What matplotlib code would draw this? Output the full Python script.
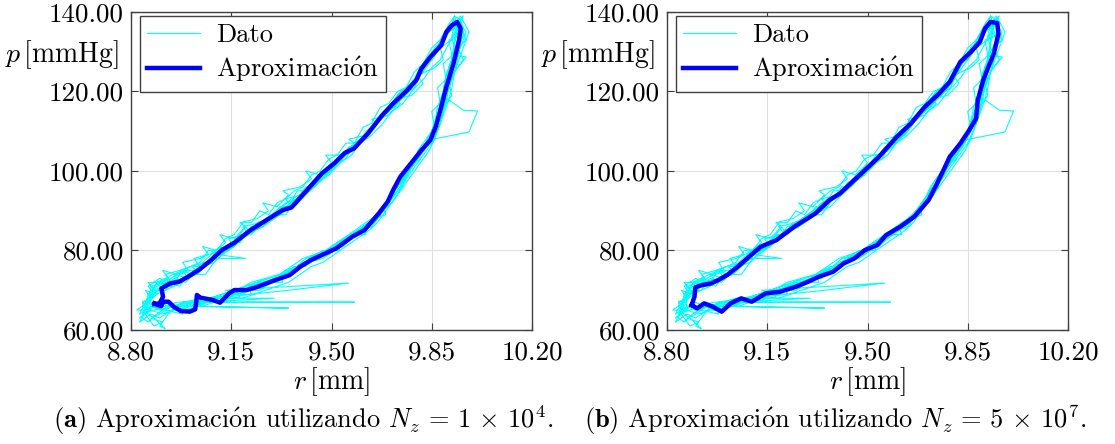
import matplotlib
matplotlib.use("Agg")
import matplotlib.pyplot as plt

plt.rcParams["font.family"] = ["cmr10", "DejaVu Serif"]
plt.rcParams["mathtext.fontset"] = "cm"
plt.rcParams["axes.unicode_minus"] = False

# Measured pressure-radius cycles (same data in both panels)
r_ciclo1 = [8.85, 8.87, 8.87, 8.90, 8.92, 8.95, 8.98, 9.00, 9.02, 9.06, 9.08, 9.12, 9.15, 9.18,
            9.21, 9.25, 9.29, 9.33, 9.36, 9.40, 9.43, 9.47, 9.50, 9.53, 9.57, 9.60, 9.64, 9.67,
            9.70, 9.73, 9.77, 9.80, 9.82, 9.85, 9.88, 9.90, 9.92, 9.93, 9.94, 9.93, 9.92, 9.90,
            9.89, 9.87, 9.86, 9.84, 9.81, 9.78, 9.75, 9.72, 9.70, 9.67, 9.64, 9.60, 9.56, 9.52,
            9.48, 9.44, 9.40, 9.36, 9.32, 9.28, 9.24, 9.20, 9.16, 9.12, 9.08, 9.04, 9.00, 8.96,
            8.92, 8.88]
p_ciclo1 = [66, 68, 70, 70, 72, 72, 73, 73, 75, 76, 78, 80, 82, 82,
            85, 86, 89, 90, 92, 94, 97, 99, 101, 104, 105, 108, 111, 113,
            116, 118, 121, 124, 127, 129, 132, 135, 137, 139, 136, 132, 128, 124,
            120, 116, 112, 108, 105, 102, 99, 96, 93, 90, 88, 86, 84, 82,
            80, 78, 77, 75, 74, 73, 72, 71, 70, 69, 68, 68, 67, 67,
            66, 65]

r_ciclo2 = [8.84, 8.86, 8.88, 8.91, 8.94, 8.97, 9.01, 9.04, 9.07, 9.10, 9.14, 9.17, 9.21, 9.24,
            9.28, 9.32, 9.35, 9.38, 9.42, 9.45, 9.49, 9.52, 9.55, 9.59, 9.62, 9.66, 9.69, 9.72,
            9.75, 9.78, 9.81, 9.84, 9.86, 9.89, 9.91, 9.93, 9.95, 9.96, 9.94, 9.92, 9.91, 9.89,
            9.88, 9.86, 9.84, 9.98, 10.01, 9.96, 9.90, 9.88, 9.85, 9.82, 9.79, 9.76, 9.73, 9.71,
            9.68, 9.65, 9.62, 9.58, 9.54, 9.50, 9.46, 9.42, 9.38, 9.34, 9.30, 9.26, 9.22, 9.18,
            9.14, 9.10, 9.06, 9.02, 8.98, 8.94, 8.90, 8.87]
p_ciclo2 = [64, 66, 69, 71, 71, 74, 75, 75, 77, 80, 80, 83, 84, 87,
            88, 91, 91, 95, 95, 98, 100, 102, 105, 106, 110, 112, 115, 117,
            119, 122, 125, 128, 131, 133, 136, 138, 137, 134, 131, 126, 122, 118,
            114, 110, 107.8, 109.8, 115.1, 115.3, 118.4, 112, 107, 104, 101, 98, 94, 92,
            90, 87, 86, 84, 81, 80, 79, 77, 76, 73, 73, 71, 71, 70,
            68, 68, 67, 66, 67, 65, 63, 64]

r_ciclo3 = [8.83, 8.85, 8.86, 8.89, 8.92, 8.95, 8.99, 9.02, 9.05, 9.09, 9.12, 9.16, 9.19, 9.23,
            9.26, 9.30, 9.34, 9.37, 9.41, 9.44, 9.48, 9.51, 9.55, 9.58, 9.62, 9.65, 9.68, 9.71,
            9.74, 9.78, 9.81, 9.84, 9.87, 9.89, 9.92, 9.94, 9.97, 9.95, 9.93, 9.97, 9.93, 9.91,
            9.90, 9.88, 9.85, 9.83, 9.80, 9.77, 9.74, 9.72, 9.69, 9.66, 9.63, 9.59, 9.55, 9.51,
            9.47, 9.43, 9.39, 9.35, 9.31, 9.27, 9.23, 9.19, 9.15, 9.11, 9.07, 9.03, 9.58, 9.30,
            9.00, 8.96, 8.93, 8.90, 8.92, 8.88, 8.84]
p_ciclo3 = [62, 65, 67, 69, 70, 73, 72, 74, 76, 77, 79, 81, 84, 85,
            86, 89, 89, 92, 96, 96, 99, 102, 103, 107, 109, 112, 114, 117,
            120, 122, 126, 128, 130, 134, 136, 138, 135, 131, 129, 128.7, 125, 121,
            117, 113, 109, 106, 103, 100, 97, 95, 91, 89, 87, 85, 83, 81,
            79, 78, 76, 75, 73, 72, 71, 70, 69, 67, 67, 67, 67, 67,
            67, 66, 64, 61, 60.3, 63, 65]

r_ciclo4 = [8.82, 8.86, 8.87, 8.91, 8.94, 8.98, 9.01, 9.05, 9.08, 9.11, 9.13, 9.17, 9.20, 9.22,
            9.27, 9.31, 9.34, 9.38, 9.41, 9.46, 9.49, 9.53, 9.56, 9.60, 9.63, 9.66, 9.70, 9.73,
            9.76, 9.79, 9.82, 9.85, 9.88, 9.90, 9.93, 9.95, 9.98, 9.96, 9.94, 9.92, 9.90, 9.88,
            9.86, 9.83, 9.80, 9.78, 9.75, 9.72, 9.70, 9.67, 9.64, 9.60, 9.57, 9.53, 9.49, 9.45,
            9.41, 9.37, 9.33, 9.29, 9.25, 9.21, 9.17, 9.13, 9.56, 9.35, 9.09, 9.05, 9.01, 9.35,
            8.97, 8.93, 8.89, 8.86]
p_ciclo4 = [65, 67, 71, 72, 73, 75, 74, 77, 79, 81, 80, 83, 86, 84,
            88, 90, 92, 93, 95, 98, 101, 103, 106, 107, 110, 113, 115, 119,
            121, 123, 126, 130, 131, 134, 137, 139, 135, 131, 127, 123, 119, 115,
            111, 107, 104, 101, 97, 94, 92, 89, 86, 85, 83, 82, 80, 78,
            77, 75, 74, 72, 72, 70, 69, 70, 71.8, 70, 68, 68, 66, 65.5,
            66, 66, 64, 62]

r_ciclo5 = [8.84, 8.85, 8.86, 8.89, 8.93, 8.97, 9.00, 9.03, 9.06, 9.09, 9.20, 9.10, 9.13, 9.16,
            9.19, 9.22, 9.26, 9.29, 9.33, 9.36, 9.39, 9.43, 9.47, 9.50, 9.54, 9.57, 9.61, 9.64,
            9.67, 9.71, 9.74, 9.77, 9.80, 9.83, 9.86, 9.88, 9.91, 9.93, 9.95, 9.93, 9.91, 9.90,
            9.88, 9.87, 9.85, 9.82, 9.79, 9.76, 9.74, 9.71, 9.68, 9.65, 9.61, 9.57, 9.53, 9.49,
            9.45, 9.41, 9.37, 9.33, 9.29, 9.25, 9.21, 9.17, 9.13, 9.09, 9.05, 9.01, 8.97, 8.94,
            8.90, 8.87]
p_ciclo5 = [63, 66, 69, 71, 72, 71, 74, 74, 76, 78, 78, 79, 80, 82,
            83, 86, 87, 88, 91, 93, 94, 96, 100, 100, 104, 106, 108, 110,
            114, 116, 118, 120, 123, 127, 129, 133, 135, 136, 133, 130, 126, 121,
            117, 113, 110, 106, 102, 99, 96, 93, 91, 88, 86, 84, 82, 79,
            79, 76, 76, 74, 72, 70, 70, 68, 68, 67, 66, 67, 65, 66,
            65, 66]

r_ciclo6 = [8.86, 8.88, 8.86, 8.90, 8.93, 8.91, 8.96, 9.00, 8.98, 9.04,
            9.07, 9.05, 9.10, 9.13, 9.11, 9.16, 9.20, 9.18, 9.24, 9.28,
            9.26, 9.31, 9.35, 9.33, 9.39, 9.43, 9.41, 9.46, 9.50, 9.48,
            9.54, 9.58, 9.56, 9.62, 9.66, 9.64, 9.70, 9.74, 9.72, 9.78,
            9.82, 9.80, 9.86, 9.89, 9.88, 9.92, 9.94, 9.96, 9.93, 9.95,
            9.91, 9.92, 9.89, 9.90, 9.87, 9.88, 9.85, 9.86, 9.83, 9.80,
            9.81, 9.77, 9.74, 9.75, 9.71, 9.68, 9.69, 9.65, 9.61, 9.62,
            9.57, 9.52, 9.53, 9.47, 9.42, 9.43, 9.37, 9.32, 9.33, 9.27,
            9.21, 9.22, 9.15, 9.09, 9.10, 9.03, 8.97, 8.98, 8.92, 8.88]
p_ciclo6 = [68, 70, 72, 72, 73, 75, 74, 75, 77, 78,
            79, 81, 80, 82, 84, 83, 86, 87, 88, 90,
            92, 91, 94, 95, 96, 98, 100, 99, 102, 104,
            104, 107, 108, 109, 112, 113, 114, 117, 118, 119,
            122, 124, 126, 128, 131, 133, 136, 139, 137, 134,
            133, 129, 127, 123, 121, 117, 115, 111, 108, 105,
            103, 101, 97, 96, 94, 91, 89, 88, 86, 84,
            84, 82, 80, 80, 78, 77, 75, 74, 72, 72,
            71, 69, 69, 68, 67, 67, 66, 64, 65, 66]

r_ciclo7 = [8.85, 8.84, 8.87, 8.89, 8.92, 8.95, 8.99, 9.03, 9.06, 9.09,
            9.13, 9.16, 9.19, 9.23, 9.26, 9.30, 9.34, 9.37, 9.41, 9.44,
            9.48, 9.52, 9.55, 9.59, 9.63, 9.66, 9.70, 9.73, 9.77, 9.80,
            9.84, 9.87, 9.90, 9.92, 9.91, 9.93, 9.92, 9.93, 9.91, 9.90,
            9.89, 9.87, 9.85, 9.83, 9.80, 9.77, 9.74, 9.71, 9.67, 9.62,
            9.57, 9.52, 9.48, 9.44, 9.40, 9.36, 9.32, 9.28, 9.24, 9.20,
            9.16, 9.12, 9.08, 9.30, 9.05, 9.01, 8.97, 8.93, 8.90, 8.86]
p_ciclo7 = [64, 67, 68, 70, 70, 71, 73, 74, 74, 77,
            80, 81, 83, 85, 86, 88, 90, 91, 94, 96,
            99, 102, 104, 107, 109, 112, 115, 117, 120, 123,
            127, 130, 134, 136, 135, 137, 134, 130, 126, 123,
            119, 114, 110, 106, 103, 100, 96, 93, 89, 86,
            84, 82, 80, 79, 78, 76, 74, 73, 72, 71,
            70, 69, 68, 68, 67, 66, 65, 66, 67, 65]

r_ciclo8 = [8.87, 8.83, 8.85, 8.88, 8.86, 8.90, 8.94, 8.92, 8.97, 9.01,
            9.04, 9.02, 9.07, 9.11, 9.14, 9.18, 9.21, 9.19, 9.25, 9.29,
            9.32, 9.36, 9.34, 9.40, 9.44, 9.47, 9.51, 9.55, 9.58, 9.61,
            9.65, 9.69, 9.72, 9.75, 9.79, 9.82, 9.85, 9.87, 9.90, 9.92,
            9.95, 9.97, 9.94, 9.96, 9.93, 9.91, 9.92, 9.89, 9.87, 9.86,
            9.84, 9.81, 9.79, 9.76, 9.73, 9.71, 9.68, 9.65, 9.62, 9.59,
            9.55, 9.51, 9.47, 9.41, 9.38, 9.34, 9.30, 9.26, 9.22, 9.18,
            9.14, 9.10, 9.06, 9.02, 8.99, 8.95, 8.91, 8.88, 8.85, 8.83]
p_ciclo8 = [66, 64, 67, 69, 71, 73, 72, 74, 75, 76,
            76, 78, 79, 80, 81, 84, 84, 86, 87, 88,
            90, 91, 93, 94, 97, 98, 101, 104, 106, 108,
            111, 115, 116, 119, 121, 126, 129, 131, 134, 136,
            137, 133, 131, 128, 125, 122, 119, 116, 113, 110,
            107, 104, 102, 100, 97, 94, 91, 88, 86, 85,
            83, 81, 79, 78, 76, 75, 73, 72, 71, 69,
            69, 68, 67, 67, 66, 66, 65, 66, 64, 63]

r_ciclo9 = [8.86, 8.84, 8.87, 8.85, 8.89, 8.87, 8.91, 8.89, 8.94, 8.92,
            8.97, 8.95, 9.00, 8.98, 9.03, 9.01, 9.06, 9.10, 9.08, 9.12,
            9.16, 9.14, 9.20, 9.23, 9.27, 9.30, 9.34, 9.38, 9.42, 9.45,
            9.49, 9.53, 9.57, 9.60, 9.64, 9.68, 9.71, 9.75, 9.78, 9.82,
            9.85, 9.88, 9.91, 9.93, 9.94, 9.93, 9.92, 9.90, 9.89, 9.88,
            9.86, 9.84, 9.81, 9.78, 9.75, 9.72, 9.69, 9.66, 9.63, 9.59,
            9.55, 9.51, 9.47, 9.42, 9.37, 9.32, 9.27, 9.22, 9.17, 9.12,
            9.07, 9.02, 8.98, 9.06, 8.94, 8.90, 8.87, 8.91, 8.88, 8.85]
p_ciclo9 = [65, 67, 68, 70, 69, 71, 70, 72, 71, 73,
            72, 74, 73, 75, 75, 76, 77, 78, 80, 80,
            81, 83, 84, 86, 88, 89, 91, 93, 95, 97,
            99, 102, 104, 107, 109, 112, 115, 117, 120, 123,
            126, 128, 132, 135, 137, 133, 128, 124, 120, 116,
            112, 108, 104, 101, 98, 95, 91, 88, 86, 84,
            82, 80, 78, 77, 75, 74, 73, 72, 70, 69,
            68, 67, 67, 68, 66, 64, 63, 62, 61, 64]

r_ciclo10 = [8.85, 8.87, 8.89, 8.92, 8.95, 8.98, 9.01, 9.04, 9.07, 9.10,
             9.13, 9.16, 9.19, 9.22, 9.25, 9.28, 9.31, 9.34, 9.37, 9.40,
             9.43, 9.46, 9.49, 9.52, 9.55, 9.58, 9.61, 9.64, 9.67, 9.70,
             9.73, 9.76, 9.79, 9.82, 9.85, 9.88, 9.91, 9.93, 9.95, 9.96,
             9.95, 9.94, 9.93, 9.92, 9.91, 9.90, 9.88, 9.86, 9.84, 9.81,
             9.78, 9.75, 9.72, 9.69, 9.66, 9.63, 9.59, 9.55, 9.51, 9.47,
             9.43, 9.39, 9.35, 9.31, 9.27, 9.23, 9.19, 9.15, 9.11, 9.07,
             9.03, 8.99, 8.95, 8.91, 8.87, 8.84]
p_ciclo10 = [66, 69, 72, 73, 74, 75, 76, 77, 80, 80,
             83, 84, 87, 87, 90, 89, 92, 93, 95, 96,
             99, 100, 103, 104, 107, 107, 111, 112, 116, 117,
             120, 121, 125, 127, 131, 133, 137, 139, 138, 136,
             132, 128, 125, 121, 118, 116, 112, 108, 105, 102,
             99, 96, 93, 90, 87, 85, 83, 81, 79, 77,
             76, 74, 72, 71, 70, 69, 68, 68, 67, 67,
             66, 65, 65, 64, 65, 66]

r_dato = (r_ciclo1 + r_ciclo2 + r_ciclo3 + r_ciclo4 + r_ciclo5
          + r_ciclo6 + r_ciclo7 + r_ciclo8 + r_ciclo9 + r_ciclo10)
p_dato = (p_ciclo1 + p_ciclo2 + p_ciclo3 + p_ciclo4 + p_ciclo5
          + p_ciclo6 + p_ciclo7 + p_ciclo8 + p_ciclo9 + p_ciclo10)

# Fitted loop, N_z = 1e4
r_aprox_a = [8.881, 8.900, 8.912, 8.906, 8.937, 8.968, 8.999, 9.036, 9.080, 9.117, 9.161, 9.217,
             9.292, 9.329, 9.360, 9.404, 9.466, 9.509, 9.547, 9.578, 9.627, 9.677, 9.715, 9.764,
             9.796, 9.814, 9.845, 9.883, 9.901, 9.920, 9.939, 9.951, 9.945, 9.926, 9.901, 9.883,
             9.864, 9.845, 9.814, 9.777, 9.740, 9.715, 9.696, 9.665, 9.615, 9.572, 9.516, 9.466,
             9.428, 9.391, 9.354, 9.304, 9.273, 9.236, 9.204, 9.161, 9.142, 9.111, 9.086, 9.043,
             9.030, 9.028, 9.024, 9.005, 8.974, 8.949, 8.931, 8.912, 8.906, 8.893, 8.881]
p_aprox_a = [66.53, 66.70, 68.38, 70.47, 71.73, 72.15, 73.40, 75.08, 77.59, 80.10, 81.95, 85.13,
             88.48, 90.16, 90.83, 94.35, 99.37, 101.88, 104.57, 105.65, 109.42, 114.03, 116.96, 120.31,
             122.83, 125.76, 128.69, 131.62, 134.97, 136.65, 137.49, 135.81, 132.88, 127.02, 121.15, 116.13,
             111.10, 107.75, 105.24, 101.88, 98.53, 95.18, 92.25, 89.32, 85.13, 83.45, 80.52, 78.85,
             77.59, 75.92, 73.82, 72.56, 71.73, 70.72, 70.05, 70.05, 69.21, 66.87, 67.54, 68.13,
             68.80, 67.12, 65.19, 64.61, 64.78, 65.86, 67.12, 67.12, 66.03, 66.28, 66.70]

# Fitted loop, N_z = 5e7
r_aprox_b = [8.886, 8.896, 8.899, 8.923, 8.954, 8.979, 9.010, 9.047, 9.084, 9.127, 9.182, 9.244,
             9.318, 9.367, 9.404, 9.441, 9.491, 9.540, 9.602, 9.651, 9.700, 9.750, 9.787, 9.824,
             9.861, 9.892, 9.910, 9.929, 9.953, 9.957, 9.941, 9.922, 9.904, 9.885, 9.879, 9.855,
             9.824, 9.787, 9.768, 9.737, 9.713, 9.663, 9.614, 9.565, 9.534, 9.491, 9.454, 9.417,
             9.380, 9.330, 9.293, 9.250, 9.195, 9.145, 9.096, 9.059, 9.022, 8.991, 8.960, 8.930,
             8.905, 8.886]
p_aprox_b = [66.28, 68.38, 70.72, 71.31, 71.73, 72.56, 73.82, 75.92, 78.26, 80.94, 82.62, 85.97,
             89.32, 92.67, 94.35, 96.86, 100.21, 103.56, 108.59, 111.94, 116.13, 119.48, 122.41, 127.43,
             129.95, 132.46, 135.81, 137.49, 137.24, 134.55, 129.53, 126.18, 122.83, 117.80, 113.19, 110.26,
             106.91, 103.56, 100.63, 96.02, 92.67, 88.48, 85.97, 83.87, 81.36, 80.10, 78.01, 76.75,
             74.66, 73.40, 72.15, 70.89, 69.63, 69.21, 67.12, 67.96, 66.70, 64.61, 65.86, 66.70,
             65.44, 66.28]

r_ticks = [8.80, 9.15, 9.50, 9.85, 10.20]
p_ticks = [60, 80, 100, 120, 140]
captions = [r"$\mathbf{(a)}$ Aproximaci$\acute{\mathrm{o}}$n utilizando $N_z\,=\,1\,\times\,10^4$.",
            r"$\mathbf{(b)}$ Aproximaci$\acute{\mathrm{o}}$n utilizando $N_z\,=\,5\,\times\,10^7$."]

fig = plt.figure(figsize=(11.15, 4.44), dpi=100)
W, H = 1115, 444
ax_a = fig.add_axes([131 / W, (H - 330) / H, 401 / W, 318 / H])
ax_b = fig.add_axes([667 / W, (H - 330) / H, 401 / W, 318 / H])

for ax, r_aprox, p_aprox in [(ax_a, r_aprox_a, p_aprox_a), (ax_b, r_aprox_b, p_aprox_b)]:
    ax.plot(r_dato, p_dato, color="#00FFFF", linewidth=0.8, label="Dato", zorder=2)
    ax.plot(r_aprox, p_aprox, color="#0000FF", linewidth=3.2, label=r"Aproximaci$\acute{\mathrm{o}}$n",
            solid_joinstyle="round", zorder=3)
    ax.set_xlim(8.80, 10.20)
    ax.set_ylim(60, 140)
    ax.set_xticks(r_ticks)
    ax.set_yticks(p_ticks)
    ax.set_xticklabels([f"{v:.2f}" for v in r_ticks])
    ax.set_yticklabels([f"{v:.2f}" for v in p_ticks])
    ax.tick_params(direction="in", top=True, right=True, length=5, width=0.8,
                   color="#404040", labelsize=19.5)
    ax.tick_params(axis="x", pad=8)
    ax.tick_params(axis="y", pad=5)
    ax.grid(True, color="#e0e0e0", linewidth=0.8)
    ax.set_axisbelow(True)
    for s in ax.spines.values():
        s.set_color("#404040")
        s.set_linewidth(1.0)
    ax.set_xlabel(r"$r\,$[mm]", fontsize=20, labelpad=0)
    ax.set_ylabel(r"$p\,$[mmHg]", fontsize=20, rotation=0, ha="right", va="center")
    ax.yaxis.set_label_coords(-0.03, 0.865)
    leg = ax.legend(loc="upper left", bbox_to_anchor=(0.022, 0.988), borderaxespad=0,
                    fontsize=19, fancybox=False, framealpha=1, edgecolor="#404040",
                    handlelength=2.0, handletextpad=0.6, labelspacing=0.3, borderpad=0.28)
    leg.get_frame().set_linewidth(1.0)

fig.text(303 / W, 1 - 420 / H, captions[0], fontsize=19, ha="center", va="center")
fig.text(835 / W, 1 - 420 / H, captions[1], fontsize=19, ha="center", va="center")

fig.savefig("out.png", dpi=100)
plt.close(fig)
